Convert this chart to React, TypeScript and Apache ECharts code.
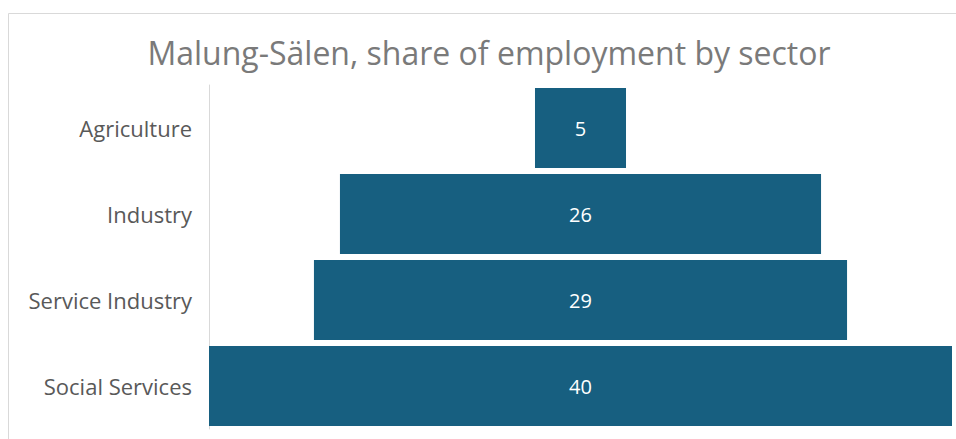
import React, { useEffect, useRef } from "react";
import * as echarts from "echarts";

const categories = ["Agriculture", "Industry", "Service Industry", "Social Services"];
const values = [4.9, 25.9, 28.7, 40.0];
const titleText = "Malung-Sälen, share of employment by sector";

const FONT = "'Open Sans', 'Noto Sans', sans-serif";

export default function App() {
  const ref = useRef<HTMLDivElement>(null);
  useEffect(() => {
    if (!ref.current) return;
    const chart = echarts.init(ref.current, undefined, { renderer: "svg" });
    const maxV = Math.max(...values);
    chart.setOption({
      animation: false,
      backgroundColor: "#ffffff",
      graphic: [
        {
          type: "rect",
          shape: { x: 8.5, y: 13.5, width: 1200, height: 1000 },
          style: { fill: "none", stroke: "#d9d9d9", lineWidth: 1 },
          silent: true,
          z: -1,
        },
        {
          type: "text",
          x: 489,
          y: 52,
          style: {
            text: titleText,
            fill: "#7a7a7a",
            fontSize: 32,
            fontFamily: FONT,
            align: "center",
            verticalAlign: "middle",
          },
        },
      ],
      grid: { left: 209, right: 4, top: 85, bottom: 10, containLabel: false },
      xAxis: {
        type: "value",
        min: 0,
        max: maxV,
        show: false,
      },
      yAxis: {
        type: "category",
        data: categories,
        inverse: true,
        axisLine: { show: true, lineStyle: { color: "#d9d9d9", width: 1 } },
        axisTick: { show: false },
        axisLabel: {
          color: "#595959",
          fontSize: 22,
          fontFamily: FONT,
          margin: 17,
        },
        splitLine: { show: false },
      },
      series: [
        {
          type: "bar",
          stack: "funnel",
          silent: true,
          barCategoryGap: "7%",
          itemStyle: { color: "transparent" },
          data: values.map((v) => (maxV - v) / 2),
        },
        {
          type: "bar",
          stack: "funnel",
          barCategoryGap: "7%",
          itemStyle: { color: "#175f80" },
          label: {
            show: true,
            position: "inside",
            color: "#ffffff",
            fontSize: 20,
            fontFamily: FONT,
            formatter: (p: any) => String(Math.round(p.value)),
          },
          data: values,
        },
      ],
    });
    return () => chart.dispose();
  }, []);
  return (
    <div
      ref={ref}
      style={{ position: "fixed", left: 0, top: 0, width: 956, height: 439 }}
    />
  );
}
